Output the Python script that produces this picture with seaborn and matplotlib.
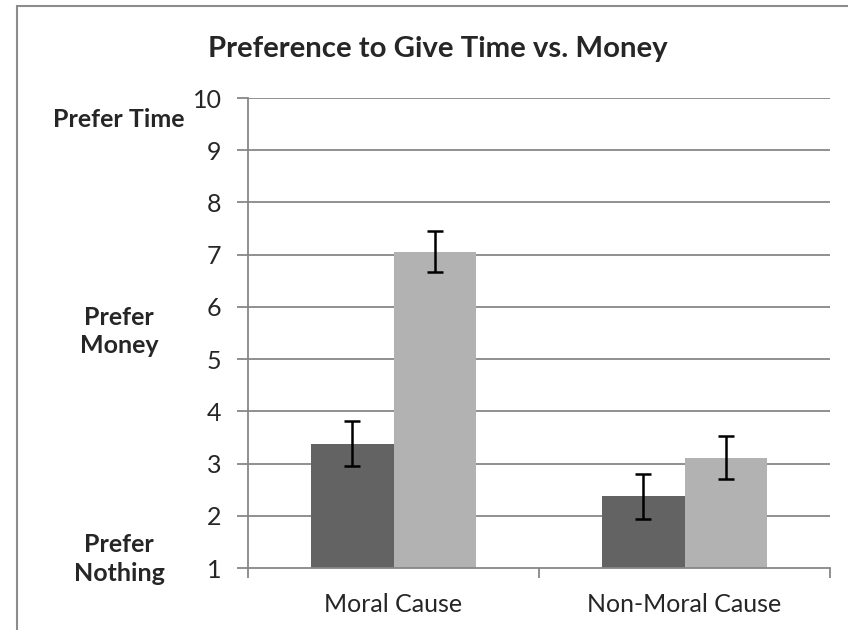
import seaborn as sns
import pandas as pd
import matplotlib.pyplot as plt
from matplotlib.patches import Rectangle

# data
causes = ["Moral Cause", "Non-Moral Cause"]
groups = ["Group A", "Group B"]
means_a = [3.38, 2.37]
means_b = [7.06, 3.11]
err_a = [0.43, 0.43]
err_b = [0.39, 0.41]
side_labels = ["Prefer Time", "Prefer\nMoney", "Prefer\nNothing"]
side_y = [9.58, 5.53, 1.17]

df = pd.DataFrame({
    "cause": causes * 2,
    "group": [groups[0]] * 2 + [groups[1]] * 2,
    "value": means_a + means_b,
    "err": err_a + err_b,
})

sns.set_style("white")
plt.rcParams["font.family"] = ["Lato", "DejaVu Sans"]

fig = plt.figure(figsize=(8.48, 6.3), dpi=100)
ax = fig.add_axes([248 / 848, 1 - 568 / 630, 582 / 848, 470 / 630])

grid_c = "#878787"
for y in range(2, 11):
    ax.axhline(y, color=grid_c, lw=1.3, zorder=0)

sns.barplot(data=df, x="cause", y="value", hue="group", order=causes,
            hue_order=groups, palette=["#636363", "#b2b2b2"], width=0.57,
            legend=False, ax=ax, zorder=2, linewidth=0)

# error bars at the bar centres
for bars, g in zip(ax.containers, groups):
    sub = df[df["group"] == g].set_index("cause").loc[causes]
    xs = [b.get_x() + b.get_width() / 2 for b in bars]
    ax.errorbar(xs, sub["value"], yerr=sub["err"], fmt="none", ecolor="black",
                elinewidth=1.8, capsize=6, capthick=1.8, zorder=3)

ax.set_ylim(1, 10)
ax.set_xlim(-0.5, 1.5)
ax.set_yticks(range(1, 11))
ax.set_xticks([-0.5, 0.5, 1.5], minor=False)
ax.set_xticklabels(["", "", ""])
ax.set_xticks([0, 1], minor=True)
ax.set_xticklabels(causes, minor=True)
ax.tick_params(axis="x", which="minor", length=0, pad=18, labelsize=18)
ax.tick_params(axis="x", which="major", length=7, color=grid_c, width=1.3,
               direction="out", bottom=True)
ax.tick_params(axis="y", length=8, color=grid_c, width=1.3, direction="out",
               left=True, labelsize=18, pad=11)
ax.set_xlabel("")
ax.set_ylabel("")
for s in ["top", "right"]:
    ax.spines[s].set_visible(False)
for s in ["left", "bottom"]:
    ax.spines[s].set_color(grid_c)
    ax.spines[s].set_linewidth(1.3)

for lab, y in zip(side_labels, side_y):
    ax.text(-0.2216, y, lab, transform=ax.get_yaxis_transform(), ha="center",
            va="center", fontsize=18, fontweight="bold", linespacing=1.3)

fig.text(438 / 848, 1 - 57 / 630, "Preference to Give Time vs. Money",
         ha="center", va="baseline", fontsize=21.2, fontweight="bold")

# outer chart frame (cut by the image edge on the right and bottom)
fig.patches.append(Rectangle((17 / 848, -0.5), 2, 0.5 + 1 - 6 / 630,
                             transform=fig.transFigure, fill=False,
                             edgecolor="#8c8c8c", lw=1.5))

plt.savefig("out.png", dpi=100)
